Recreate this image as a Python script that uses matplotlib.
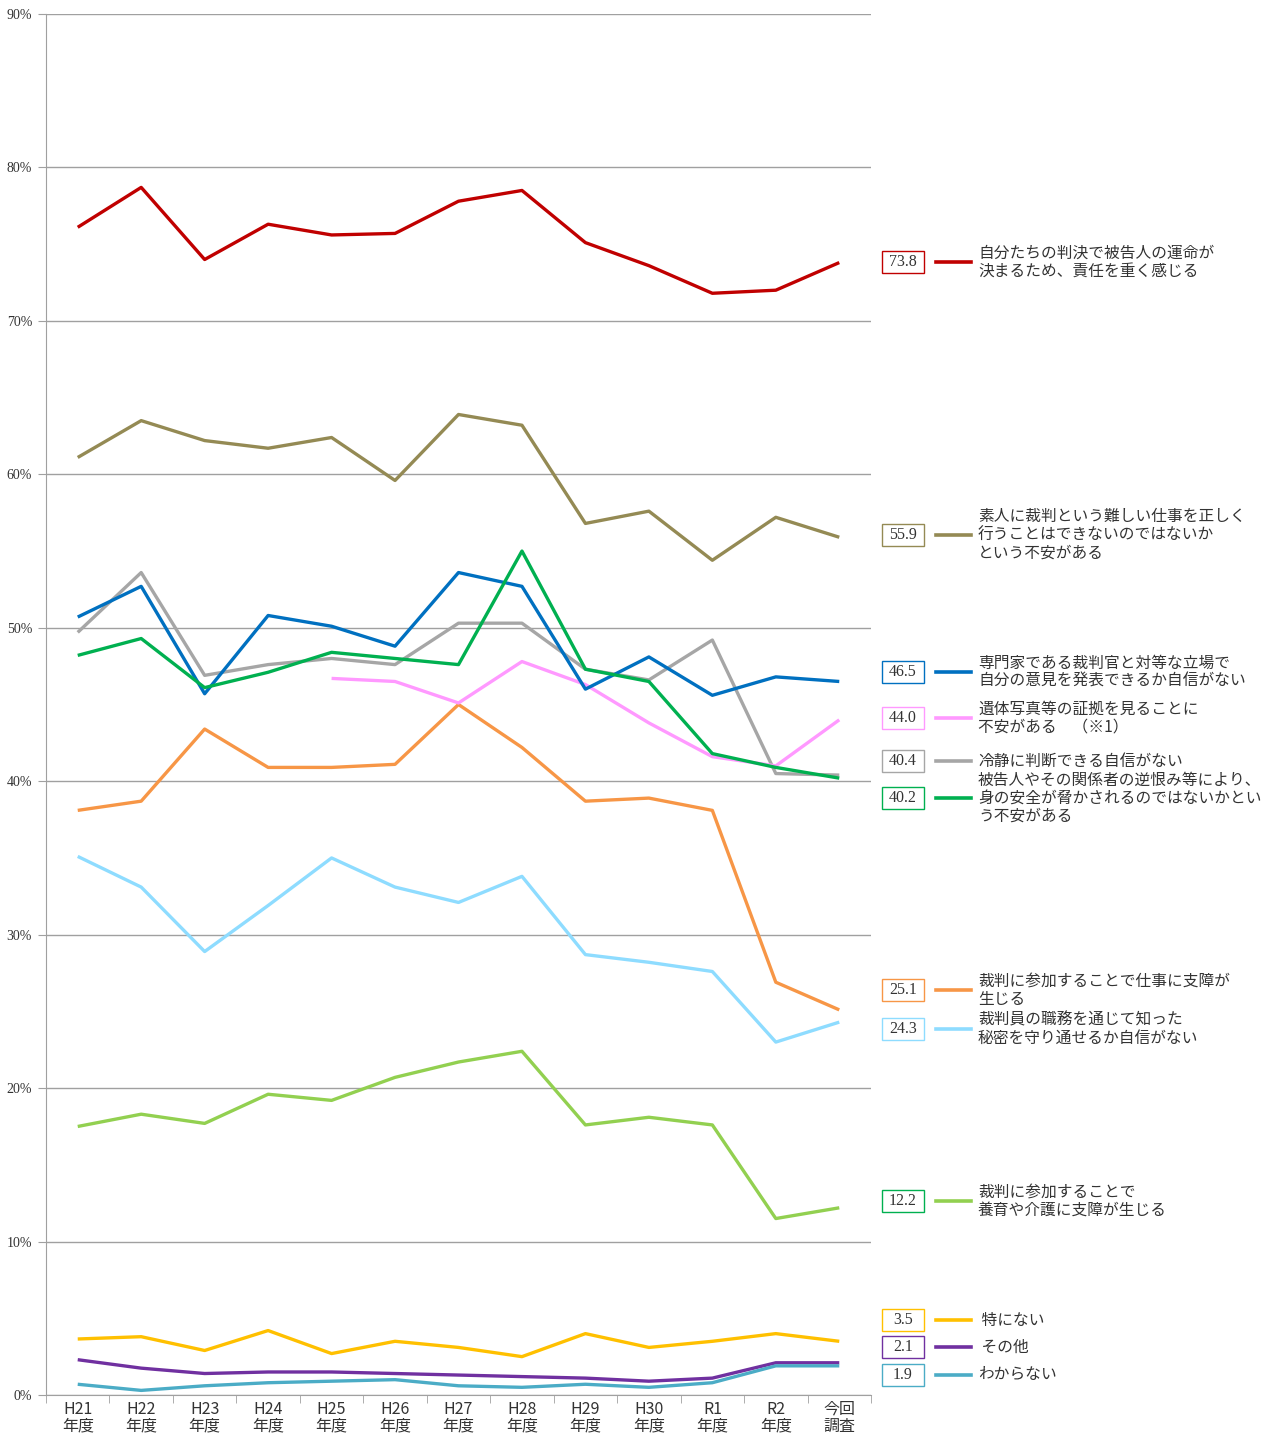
import matplotlib
matplotlib.use("Agg")
import matplotlib.pyplot as plt
from matplotlib.lines import Line2D
from matplotlib.patches import Rectangle
import numpy as np

plt.rcParams['font.family'] = ['Noto Sans CJK JP', 'DejaVu Sans']

# ── Data ──────────────────────────────────────────────────────────────────
categories = ["H21\n年度", "H22\n年度", "H23\n年度", "H24\n年度", "H25\n年度", "H26\n年度",
              "H27\n年度", "H28\n年度", "H29\n年度", "H30\n年度", "R1\n年度", "R2\n年度", "今回\n調査"]

responsibility = [76.1, 78.7, 74.0, 76.3, 75.6, 75.7, 77.8, 78.5, 75.1, 73.6, 71.8, 72.0, 73.8]
amateur_anxiety = [61.1, 63.5, 62.2, 61.7, 62.4, 59.6, 63.9, 63.2, 56.8, 57.6, 54.4, 57.2, 55.9]
equal_opinion = [50.7, 52.7, 45.7, 50.8, 50.1, 48.8, 53.6, 52.7, 46.0, 48.1, 45.6, 46.8, 46.5]
photo_evidence = [np.nan, np.nan, np.nan, np.nan, 46.7, 46.5, 45.1, 47.8, 46.3, 43.8, 41.6, 41.0, 44.0]
calm_judgement = [49.7, 53.6, 46.9, 47.6, 48.0, 47.6, 50.3, 50.3, 47.3, 46.6, 49.2, 40.5, 40.4]
safety_threat = [48.2, 49.3, 46.1, 47.1, 48.4, 48.0, 47.6, 55.0, 47.3, 46.5, 41.8, 40.9, 40.2]
work_hindrance = [38.1, 38.7, 43.4, 40.9, 40.9, 41.1, 45.0, 42.2, 38.7, 38.9, 38.1, 26.9, 25.1]
secrecy = [35.1, 33.1, 28.9, 31.9, 35.0, 33.1, 32.1, 33.8, 28.7, 28.2, 27.6, 23.0, 24.3]
care_hindrance = [17.5, 18.3, 17.7, 19.6, 19.2, 20.7, 21.7, 22.4, 17.6, 18.1, 17.6, 11.5, 12.2]
nothing = [3.65, 3.8, 2.9, 4.2, 2.7, 3.5, 3.1, 2.5, 4.0, 3.1, 3.5, 4.0, 3.5]
other = [2.3, 1.75, 1.4, 1.5, 1.5, 1.4, 1.3, 1.2, 1.1, 0.9, 1.1, 2.1, 2.1]
unknown = [0.7, 0.3, 0.6, 0.8, 0.9, 1.0, 0.6, 0.5, 0.7, 0.5, 0.8, 1.9, 1.9]

series = [
    # values, line colour, box colour, label text, value label, label y (px)
    (responsibility, "#C00000", "#C00000", "自分たちの判決で被告人の運命が\n決まるため、責任を重く感じる", "73.8", 262),
    (amateur_anxiety, "#948A54", "#948A54", "素人に裁判という難しい仕事を正しく\n行うことはできないのではないか\nという不安がある", "55.9", 535),
    (work_hindrance, "#F79646", "#F79646", "裁判に参加することで仕事に支障が\n生じる", "25.1", 990),
    (secrecy, "#8EDCFF", "#8EDCFF", "裁判員の職務を通じて知った\n秘密を守り通せるか自信がない", "24.3", 1029),
    (care_hindrance, "#92D050", "#00B050", "裁判に参加することで\n養育や介護に支障が生じる", "12.2", 1201),
    (calm_judgement, "#A6A6A6", "#A6A6A6", "冷静に判断できる自信がない", "40.4", 761),
    (photo_evidence, "#FF99FF", "#FF99FF", "遺体写真等の証拠を見ることに\n不安がある　（※1）", "44.0", 718),
    (equal_opinion, "#0070C0", "#0070C0", "専門家である裁判官と対等な立場で\n自分の意見を発表できるか自信がない", "46.5", 672),
    (safety_threat, "#00B050", "#00B050", "被告人やその関係者の逆恨み等により、\n身の安全が脅かされるのではないかとい\nう不安がある", "40.2", 798),
    (nothing, "#FFC000", "#FFC000", " 特にない", "3.5", 1320),
    (other, "#7030A0", "#7030A0", " その他", "2.1", 1347),
    (unknown, "#4BACC6", "#4BACC6", "わからない", "1.9", 1375),
]

W, H = 1274, 1434
fig = plt.figure(figsize=(W / 100, H / 100), dpi=100)
ax = fig.add_axes([46 / W, 1 - 1395 / H, (871 - 46) / W, (1395 - 14) / H])

x = np.arange(len(categories))
for vals, color, _, _, _, _ in series:
    ax.plot(x, vals, color=color, linewidth=2.4, solid_capstyle="butt", zorder=3)

ax.set_xlim(-0.5, len(categories) - 0.5)
ax.set_ylim(0, 90)
ax.set_yticks(np.arange(0, 91, 10))
ax.set_yticklabels([f"{v}%" for v in range(0, 91, 10)], family="Liberation Serif", fontsize=10, color="#333333")
ax.yaxis.grid(True, color="#A0A0A0", linewidth=1.0)
ax.set_axisbelow(True)
ax.tick_params(axis="y", length=6, color="#A0A0A0", pad=4)

ax.set_xticks(x)
ax.set_xticklabels(categories, fontsize=11.5, color="#333333", linespacing=1.0)
ax.set_xticks(np.arange(-0.5, len(categories), 1), minor=True)
ax.tick_params(axis="x", which="major", length=0, pad=4)
ax.tick_params(axis="x", which="minor", length=6, color="#A0A0A0")

for s in ["top", "right"]:
    ax.spines[s].set_visible(False)
ax.spines["left"].set_color("#A0A0A0")
ax.spines["bottom"].set_color("#A0A0A0")

# ── Right-hand labels ─────────────────────────────────────────────────────
def fx(px):
    return px / W

def fy(py):
    return 1 - py / H

box_w, box_h = 42, 22
for vals, color, box_color, label, value, ly in series:
    fig.add_artist(Rectangle((fx(903 - box_w / 2), fy(ly + box_h / 2)), box_w / W, box_h / H,
                             facecolor="white", edgecolor=box_color, linewidth=1.0,
                             transform=fig.transFigure))
    fig.text(fx(903), fy(ly), value, ha="center", va="center", fontsize=11.5,
             family="Liberation Serif", color="#333333")
    fig.add_artist(Line2D([fx(936), fx(971)], [fy(ly), fy(ly)], color=color, linewidth=2.6,
                          transform=fig.transFigure))
    fig.text(fx(978), fy(ly), label, ha="left", va="center", fontsize=11.3,
             color="#333333", linespacing=1.08)

fig.savefig("out.png", dpi=100)
